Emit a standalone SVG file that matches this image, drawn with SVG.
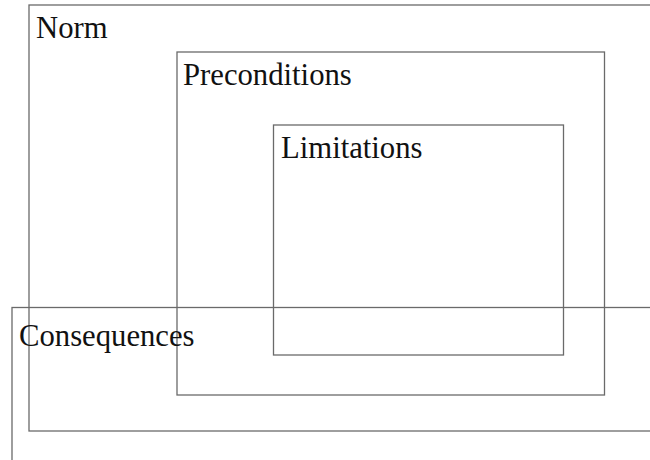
<svg xmlns="http://www.w3.org/2000/svg" width="650" height="460" viewBox="0 0 650 460">
  <style>
    .box { fill: none; stroke: #6a6a6a; stroke-width: 1.3; }
    .label { font-family: "Liberation Serif", "Times New Roman", serif; font-size: 30.7px; fill: #111; }
  </style>
  <rect width="650" height="460" fill="#ffffff"/>
  <g id="norm">
    <rect class="box" x="29" y="5" width="640" height="426"/>
    <text class="label" x="36" y="38">Norm</text>
  </g>
  <g id="preconditions">
    <rect class="box" x="177" y="52" width="427.5" height="343"/>
    <text class="label" x="183" y="85">Preconditions</text>
  </g>
  <g id="limitations">
    <rect class="box" x="273.5" y="125" width="290" height="230"/>
    <text class="label" x="281" y="158">Limitations</text>
  </g>
  <g id="consequences">
    <rect class="box" x="12" y="307.5" width="660" height="200"/>
    <text class="label" x="19" y="346">Consequences</text>
  </g>
  <g id="connectors"/>
</svg>
